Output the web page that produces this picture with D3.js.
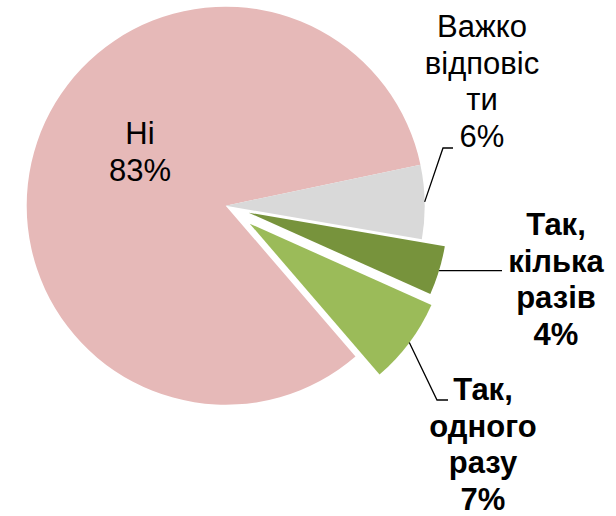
<!DOCTYPE html>
<html>
<head>
<meta charset="utf-8">
<script src="https://cdn.jsdelivr.net/npm/d3@7"></script>
<style>
  html, body { margin: 0; padding: 0; background: #ffffff; }
  svg { display: block; }
</style>
</head>
<body>
<svg id="chart" width="616" height="516"></svg>
<script>
// Survey answers and their shares (%)
const categories = ["Ні", "Важко відповісти", "Так, кілька разів", "Так, одного разу"];
const values = [83, 6, 4, 7];
// Label text broken into lines the way it is printed
const labelLines = [
  ["Ні"],
  ["Важко", "відповіс", "ти"],
  ["Так,", "кілька", "разів"],
  ["Так,", "одного", "разу"]
];
const colors = ["#E6B9B8", "#D9D9D9", "#77933C", "#9BBB59"];

// Layout
const cx = 225.7, cy = 205.7, radius = 199;
const startDeg = 139.3;
const explode = [0, 0, 24, 30];
const lineH = 36.5;
const fontSize = 31;
const labelLayout = [
  { x: 140, y: 144, bold: false, leader: null },
  { x: 482, y: 37, bold: false, leader: [[443, 148], [453, 148]] },
  { x: 556, y: 235, bold: true, leader: [[502, null]] },
  { x: 483, y: 400, bold: true, leader: [[437, 400], [448, 400]] }
];

const svg = d3.select("#chart");
const g = svg.append("g").attr("transform", `translate(${cx},${cy})`);

const a0 = startDeg * Math.PI / 180;
const pie = d3.pie().sort(null).value(d => d.value)
  .startAngle(a0).endAngle(a0 + 2 * Math.PI);
const data = categories.map((c, i) => ({ name: c, value: values[i], i }));
const arcs = pie(data);
const arc = d3.arc().innerRadius(0).outerRadius(radius);

function offsetOf(d) {
  const mid = (d.startAngle + d.endAngle) / 2;
  const e = explode[d.data.i];
  return [e * Math.sin(mid), -e * Math.cos(mid)];
}

g.selectAll("path.slice")
  .data(arcs)
  .join("path")
  .attr("class", "slice")
  .attr("d", arc)
  .attr("fill", d => colors[d.data.i])
  .attr("transform", d => {
    const [dx, dy] = offsetOf(d);
    return `translate(${dx},${dy})`;
  });

// Leader lines from the slice rim to the outside labels
const leaderGen = d3.line();
arcs.forEach(d => {
  const lay = labelLayout[d.data.i];
  if (!lay.leader) return;
  const mid = (d.startAngle + d.endAngle) / 2;
  const [dx, dy] = offsetOf(d);
  const sx = cx + dx + radius * Math.sin(mid);
  const sy = cy + dy - radius * Math.cos(mid);
  const pts = [[sx, sy]].concat(lay.leader.map(p => [p[0], p[1] == null ? sy : p[1]]));
  svg.append("path")
    .attr("d", leaderGen(pts))
    .attr("fill", "none")
    .attr("stroke", "#000")
    .attr("stroke-width", 1.3);
});

// Category labels with percentages
arcs.forEach(d => {
  const i = d.data.i;
  const lay = labelLayout[i];
  const lines = labelLines[i].concat([values[i] + "%"]);
  const t = svg.append("text")
    .attr("text-anchor", "middle")
    .attr("font-family", "'Liberation Sans', Arial, sans-serif")
    .attr("font-size", fontSize)
    .attr("font-weight", lay.bold ? "bold" : "normal")
    .attr("fill", "#000");
  lines.forEach((ln, k) => {
    t.append("tspan")
      .attr("x", lay.x)
      .attr("y", lay.y + k * lineH)
      .text(ln);
  });
});
</script>
</body>
</html>
